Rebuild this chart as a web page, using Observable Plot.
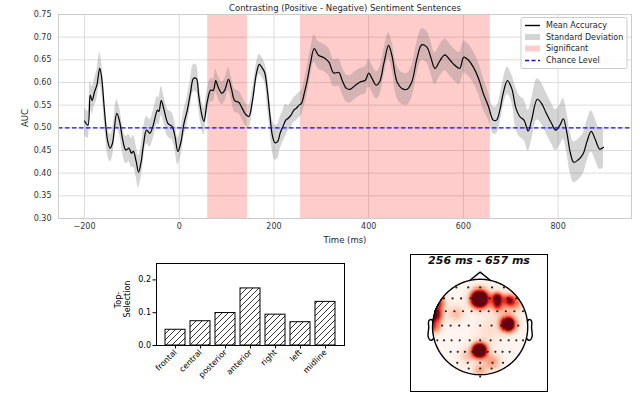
<!DOCTYPE html>
<html><head><meta charset="utf-8">
<script src="https://cdn.jsdelivr.net/npm/d3@7"></script>
<script src="https://cdn.jsdelivr.net/npm/@observablehq/plot@0.6"></script>
<style>
html,body{margin:0;padding:0;background:#fff;}
#wrap{position:relative;width:640px;height:402px;overflow:hidden;background:#fff;}
#wrap > svg{position:absolute;}
</style></head><body><div id="wrap"></div>
<script>
// ---------- top panel data ----------
const times = [
  -200,-193,-188,-184,-179,-174,-168,-164,-158,-151,
  -146,-141,-132,-126,-120,-113,-106,-101,-97,-91,
  -86,-81,-76,-69,-62,-55,-46,-43,-38,-32,
  -24,-15,-9,-3,3,10,17,24,30,36,
  41,47,52,59,66,72,77,82,90,96,
  104,110,117,126,133,140,147,154,163,169,
  174,180,186,191,197,202,208,213,219,225,
  230,236,242,247,253,258,264,270,277,285,
  294,305,316,326,337,344,353,361,372,382,
  393,400,407,416,423,432,442,449,460,470,
  481,491,502,512,523,531,540,551,561,572,
  582,592,601,611,621,632,642,653,663,670,
  677,684,693,702,711,719,728,737,744,756,
  765,775,786,795,804,811,818,826,833,842,
  853,861,870,879,888,896];
const meanAuc = [
  .515,.506,.572,.560,.579,.594,.631,.612,.539,.470,
  .455,.466,.532,.514,.477,.451,.455,.444,.448,.426,
  .402,.422,.459,.495,.488,.506,.539,.536,.560,.539,
  .510,.503,.481,.448,.466,.510,.539,.579,.609,.609,
  .572,.532,.514,.557,.583,.583,.604,.590,.576,.583,
  .607,.587,.560,.556,.543,.530,.525,.556,.620,.640,
  .634,.623,.583,.532,.481,.467,.470,.488,.503,.517,
  .521,.528,.539,.543,.550,.554,.576,.603,.642,.675,
  .660,.655,.645,.621,.622,.605,.587,.585,.594,.601,
  .605,.621,.609,.594,.601,.642,.682,.660,.601,.587,
  .585,.601,.653,.683,.678,.656,.631,.649,.661,.649,
  .638,.631,.656,.649,.634,.609,.576,.547,.517,.517,
  .539,.576,.604,.587,.543,.525,.517,.493,.517,.563,
  .554,.532,.510,.495,.506,.520,.492,.444,.424,.429,
  .443,.470,.492,.473,.453,.457];
const stdDev = [
  .030,.030,.030,.030,.030,.032,.035,.033,.030,.030,
  .030,.030,.030,.030,.030,.030,.030,.032,.035,.035,
  .035,.035,.035,.030,.030,.030,.030,.030,.032,.030,
  .030,.030,.030,.030,.030,.030,.030,.030,.030,.030,
  .030,.030,.030,.025,.025,.025,.025,.025,.025,.025,
  .025,.025,.025,.025,.025,.025,.025,.025,.022,.022,
  .022,.022,.035,.035,.035,.038,.038,.035,.035,.035,
  .028,.028,.028,.028,.028,.028,.028,.030,.030,.030,
  .030,.030,.030,.030,.030,.030,.030,.030,.030,.030,
  .030,.030,.030,.030,.030,.030,.028,.030,.035,.035,
  .035,.035,.035,.035,.035,.035,.035,.035,.035,.035,
  .035,.035,.035,.035,.035,.035,.035,.030,.030,.030,
  .030,.030,.030,.030,.045,.045,.045,.045,.045,.045,
  .045,.045,.045,.045,.045,.045,.045,.045,.045,.045,
  .045,.045,.045,.045,.045,.045];
const sigStart = [60, 256];
const sigEnd = [144, 657];
const chanceLevel = 0.5;
const xTicks = [-200, 0, 200, 400, 600, 800];
const yTicks = [0.30, 0.35, 0.40, 0.45, 0.50, 0.55, 0.60, 0.65, 0.70, 0.75];
const topTitle = "Contrasting (Positive - Negative) Sentiment Sentences";
const legendLabels = ["Mean Accuracy", "Standard Deviation", "Significant", "Chance Level"];

// ---------- bar panel data ----------
const regions = ["frontal", "central", "posterior", "anterior", "right", "left", "midline"];
const topSelection = [0.048, 0.074, 0.099, 0.174, 0.094, 0.071, 0.133];
const barTicks = [0, 0.1, 0.2];

// ---------- topomap data (head radius = 1) ----------
const elecX = [
  -0.5,-0.25,0,0.25,0.5,
  -0.76,-0.58,-0.4,-0.2,0,0.2,0.4,0.58,0.76,
  -0.9,-0.72,-0.54,-0.36,-0.18,0,0.18,0.36,0.54,0.72,0.9,
  -0.8,-0.62,-0.44,-0.24,0,0.24,0.44,0.62,0.8,
  -0.9,-0.76,-0.6,-0.43,-0.22,0,0.22,0.43,0.6,0.76,0.9,
  -0.62,-0.47,-0.32,-0.16,0,0.16,0.32,0.47,0.62,
  -0.48,-0.26,0,0.26,0.48,
  -0.24,0,0.24,
  0];
const elecY = [
  0.83,0.83,0.83,0.83,0.83,
  0.6,0.6,0.6,0.6,0.6,0.6,0.6,0.6,0.6,
  0.33,0.33,0.33,0.33,0.33,0.33,0.33,0.33,0.33,0.33,0.33,
  0.03,0.03,0.03,0.03,0.03,0.03,0.03,0.03,0.03,
  -0.28,-0.28,-0.28,-0.28,-0.28,-0.28,-0.28,-0.28,-0.28,-0.28,-0.28,
  -0.52,-0.52,-0.52,-0.52,-0.52,-0.52,-0.52,-0.52,-0.52,
  -0.75,-0.75,-0.75,-0.75,-0.75,
  -0.87,-0.87,-0.87,
  -1.04];
const hotX      = [0,    0.37, 0.37, 0.62, 0.6,  0,    -0.97, -0.88, -0.98, -0.5, 0.26, -0.26, 0.75, 0,    0.2,  0.5];
const hotY      = [0.58, 0.6,  0.45, 0.55, 0.05, -0.5, 0.25,  0.5,   0.0,   0.27, -0.74, -0.62, 0.5,  -0.92, -0.1, 0.4];
const hotAmp    = [2.2,  1.0,  0.6,  0.7,  1.8,  2.0,  1.3,   0.7,   0.6,   0.25, 0.35,  0.2,   0.35, 0.3,  0.12, 0.2];
const hotSpread = [0.12, 0.08, 0.08, 0.08, 0.1,  0.1,  0.11,  0.1,   0.1,   0.12, 0.12,  0.12,  0.1,  0.1,  0.2,  0.2];
const noseX = [-0.22, 0, 0.22];
const noseY = [0.975, 1.15, 0.975];
const earX = [0.994, 1.02, 1.036, 1.06, 1.084, 1.08, 1.094, 1.064, 1.02, 0.978];
const earY = [0.111, 0.155, 0.157, 0.149, 0.111, -0.011, -0.186, -0.263, -0.277, -0.240];
const topoTitle = "256 ms - 657 ms";

const FONT = "DejaVu Sans, sans-serif";
const wrap = document.getElementById("wrap");

// ================= TOP PANEL =================
const series = times.map((t, i) => ({t, auc: meanAuc[i], lo: meanAuc[i] - stdDev[i], hi: meanAuc[i] + stdDev[i]}));
const sig = sigStart.map((s, i) => ({s, e: sigEnd[i]}));
const minus = d => d < 0 ? "\u2212" + (-d) : String(d);

const topSvg = Plot.plot({
  width: 640, height: 250,
  marginLeft: 58, marginRight: 9, marginTop: 14, marginBottom: 32,
  style: {fontFamily: FONT, fontSize: "8px", color: "#333", background: "transparent", overflow: "visible"},
  x: {domain: [-255, 955], ticks: xTicks, tickFormat: minus, tickSize: 0, tickPadding: 5, label: null},
  y: {domain: [0.30, 0.75], ticks: yTicks, tickFormat: d3.format(".2f"), tickSize: 0, tickPadding: 7, label: null},
  marks: [
    Plot.ruleX(xTicks, {stroke: "#dddddd", strokeWidth: 1}),
    Plot.ruleY(yTicks, {stroke: "#dddddd", strokeWidth: 1}),
    Plot.rect(sig, {x1: "s", x2: "e", fill: "red", fillOpacity: 0.2}),
    Plot.areaY(series, {x: "t", y1: "lo", y2: "hi", fill: "gray", fillOpacity: 0.33, curve: "catmull-rom"}),
    Plot.line(series, {x: "t", y: "auc", stroke: "#000", strokeWidth: 1.2, curve: "catmull-rom"}),
    Plot.ruleY([chanceLevel], {stroke: "#1010ee", strokeWidth: 1.4, strokeDasharray: "4.5,2.5"}),
    Plot.frame({stroke: "#cccccc"}),
    Plot.text([topTitle], {frameAnchor: "top", lineAnchor: "bottom", dy: -4, fontSize: 8.5, fill: "#262626"}),
    Plot.text(["Time (ms)"], {frameAnchor: "bottom", lineAnchor: "top", dy: 18, fontSize: 8.5, fill: "#262626"})
  ]
});
topSvg.style.left = "0px"; topSvg.style.top = "0px";
wrap.appendChild(topSvg);
d3.select(topSvg).append("text").attr("transform", "translate(25,118) rotate(-90)")
  .attr("text-anchor", "middle").attr("dominant-baseline", "central")
  .attr("font-family", FONT).attr("font-size", 8.5).attr("fill", "#262626").text("AUC");

// legend
{
  const g = d3.select(topSvg).append("g").attr("font-family", FONT).attr("font-size", 8)
    .attr("fill", "#262626").attr("text-anchor", "start");
  g.append("rect").attr("x", 521).attr("y", 17.5).attr("width", 106).attr("height", 51).attr("rx", 2)
    .attr("fill", "#fff").attr("fill-opacity", 0.85).attr("stroke", "#cccccc");
  const ys = [25.5, 37, 48.5, 60.5];
  g.append("line").attr("x1", 525).attr("x2", 540).attr("y1", ys[0]).attr("y2", ys[0]).attr("stroke", "#000").attr("stroke-width", 1.4);
  g.append("rect").attr("x", 525).attr("y", ys[1] - 3).attr("width", 15).attr("height", 6).attr("fill", "gray").attr("fill-opacity", 0.33);
  g.append("rect").attr("x", 525).attr("y", ys[2] - 3).attr("width", 15).attr("height", 6).attr("fill", "red").attr("fill-opacity", 0.2);
  g.append("line").attr("x1", 525).attr("x2", 540).attr("y1", ys[3]).attr("y2", ys[3]).attr("stroke", "#1010ee").attr("stroke-width", 1.4).attr("stroke-dasharray", "4,2.5");
  legendLabels.forEach((l, i) => g.append("text").attr("x", 546).attr("y", ys[i]).attr("dy", "0.35em").attr("text-anchor", "start").text(l));
}

// ================= BAR PANEL =================
const barData = regions.map((r, i) => ({region: r, value: topSelection[i]}));
const barSvg = Plot.plot({
  width: 250, height: 145,
  marginLeft: 56, marginRight: 6, marginTop: 8, marginBottom: 55,
  style: {fontFamily: FONT, fontSize: "8px", color: "#000", background: "transparent", overflow: "visible"},
  x: {domain: regions, paddingInner: 0.2, paddingOuter: 0.345, tickRotate: -45, tickSize: 3.5, tickPadding: 2, label: null},
  y: {domain: [0, 0.25], ticks: barTicks, tickFormat: d3.format(".1f"), tickSize: 3.5, tickPadding: 2, label: null},
  marks: [
    Plot.barY(barData, {x: "region", y: "value", fill: "url(#hatch)", stroke: "#000", strokeWidth: 1, inset: 0}),
    Plot.frame({stroke: "#000", strokeWidth: 1})
  ]
});
{
  const sel = d3.select(barSvg);
  const defs = sel.insert("defs", ":first-child");
  const p = defs.append("pattern").attr("id", "hatch").attr("patternUnits", "userSpaceOnUse").attr("width", 6).attr("height", 6);
  p.append("rect").attr("width", 6).attr("height", 6).attr("fill", "#fff");
  p.append("path").attr("d", "M0,6 L6,0 M-1.5,1.5 L1.5,-1.5 M4.5,7.5 L7.5,4.5").attr("stroke", "#000").attr("stroke-width", 0.8);
  const lab = sel.append("g").attr("font-family", FONT).attr("font-size", 8).attr("fill", "#000")
    .attr("text-anchor", "middle").attr("dominant-baseline", "central");
  lab.append("text").attr("transform", "translate(18,45) rotate(-90)").text("Top-");
  lab.append("text").attr("transform", "translate(27,44) rotate(-90)").text("Selection");
}
barSvg.style.left = "100px"; barSvg.style.top = "255px";
wrap.appendChild(barSvg);

// ================= TOPOMAP =================
const N = 44, step = 1 / N;
const cells = [];
for (let i = -N; i < N; i++) {
  for (let j = -N; j < N; j++) {
    const cx = (i + 0.5) * step, cy = (j + 0.5) * step;
    if (cx * cx + cy * cy > 1.0) continue;
    let v = 0;
    for (let k = 0; k < hotX.length; k++) {
      const d2 = (cx - hotX[k]) ** 2 + (cy - hotY[k]) ** 2;
      v += hotAmp[k] * Math.exp(-d2 / (2 * hotSpread[k] ** 2));
    }
    cells.push({x1: cx - step / 2, x2: cx + step / 2, y1: cy - step / 2, y2: cy + step / 2, v: Math.min(1, v)});
  }
}
const headOutline = d3.range(0, 361, 3).map(a => ({x: Math.cos(a * Math.PI / 180), y: Math.sin(a * Math.PI / 180)}));
const nose = noseX.map((x, i) => ({x, y: noseY[i]}));
const earR = earX.map((x, i) => ({x, y: earY[i]}));
const earL = earX.map((x, i) => ({x: -x, y: earY[i]}));
const elecs = elecX.map((x, i) => ({x, y: elecY[i]}));

const topoSvg = Plot.plot({
  width: 139, height: 139, margin: 1,
  style: {fontFamily: FONT, background: "transparent", overflow: "visible"},
  x: {domain: [-1.463, 1.415], axis: null},
  y: {domain: [-1.352, 1.52], axis: null},
  color: {type: "linear", scheme: "reds", domain: [0, 1]},
  marks: [
    Plot.rect(cells, {x1: "x1", x2: "x2", y1: "y1", y2: "y2", fill: "v", shapeRendering: "crispEdges"}),
    Plot.line(headOutline, {x: "x", y: "y", stroke: "#000", strokeWidth: 1.4}),
    Plot.line(nose, {x: "x", y: "y", stroke: "#000", strokeWidth: 1.4}),
    Plot.line(earR, {x: "x", y: "y", stroke: "#000", strokeWidth: 1.4, curve: "catmull-rom"}),
    Plot.line(earL, {x: "x", y: "y", stroke: "#000", strokeWidth: 1.4, curve: "catmull-rom"}),
    Plot.dot(elecs, {x: "x", y: "y", r: 1.1, fill: "#222", stroke: null}),
    Plot.text([topoTitle], {frameAnchor: "top", lineAnchor: "top", dy: 2, fontSize: 11, fontWeight: "bold", fontStyle: "italic", fill: "#111"}),
    Plot.frame({stroke: "#000", strokeWidth: 1})
  ]
});
topoSvg.style.left = "409px"; topoSvg.style.top = "253px";
wrap.appendChild(topoSvg);
</script></body></html>
